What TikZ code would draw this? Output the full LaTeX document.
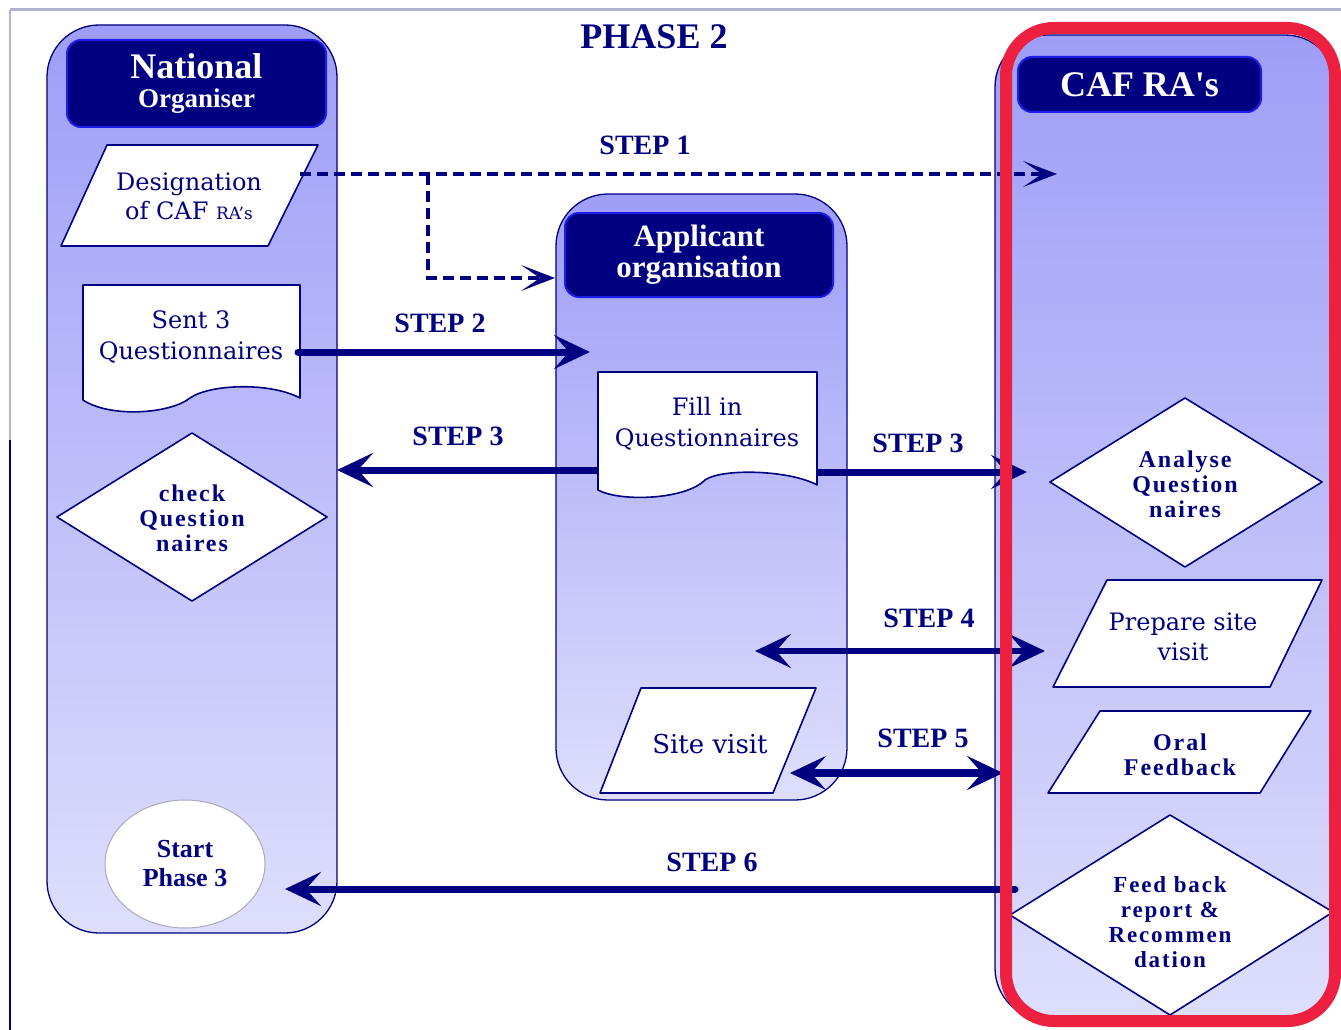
\documentclass[tikz,border=0pt]{standalone}
\usepackage{fontspec}
\setmainfont{DejaVu Serif}
\newfontfamily\tnr{Liberation Serif}
\newfontfamily\tnrsp{Liberation Serif}[LetterSpace=8]
\usetikzlibrary{arrows.meta,shapes.geometric}
\definecolor{navyc}{RGB}{0,0,128}
\definecolor{hdrb}{RGB}{30,30,235}
\definecolor{lanetop}{RGB}{158,158,248}
\definecolor{lanebot}{RGB}{222,222,252}
\definecolor{redf}{RGB}{238,32,64}
\definecolor{frameg}{RGB}{178,178,206}
\definecolor{ellb}{RGB}{170,170,190}
\tikzset{
  lane/.style={draw=navyc, line width=1.3pt, rounded corners=52pt, top color=lanetop, bottom color=lanebot, inner sep=0pt},
  hdr/.style={draw=hdrb, fill=navyc, line width=2pt, rounded corners=14pt, text=white, inner sep=0pt, align=center},
  shp/.style={draw=navyc, fill=white, line width=1.6pt, line join=round},
  txt/.style={text=navyc, align=center, inner sep=0pt},
  steplbl/.style={text=navyc, inner sep=0pt, font=\tnr\bfseries\fontsize{28}{28}\selectfont},
  regtxt/.style={txt, font=\fontsize{24}{31}\selectfont},
  dmtxt/.style={txt, font=\tnrsp\bfseries\fontsize{24}{25}\selectfont},
  bigtip/.tip={Stealth[length=36pt, width=34pt, inset=15pt]},
  bigarr/.style={draw=navyc, line width=7pt, line cap=round, -bigtip},
  dblarr/.style={draw=navyc, line width=6.5pt, bigtip-bigtip},
  dsharr/.style={draw=navyc, line width=3.5pt, dash pattern=on 11pt off 6pt, -{Stealth[length=34pt, width=26pt, inset=19pt]}}
}
\begin{document}
\begin{tikzpicture}[x=1pt,y=-1pt]
\useasboundingbox (0,0) rectangle (1341,1030);
\fill[white] (0,0) rectangle (1341,1030);
% frame
\draw[frameg, line width=3pt] (10,10) -- (1341,10);
\draw[frameg, line width=2pt] (10,10) -- (10,440);
\draw[navyc, line width=1.5pt] (10,440) -- (10,1030);
% lanes
\node[lane, minimum width=290pt, minimum height=908pt] (natlane) at (192,479) {};
\node[lane, minimum width=291pt, minimum height=606pt] (applane) at (701.5,497) {};
\node[lane, minimum width=342pt, minimum height=985pt] (caflane) at (1166,527.5) {};
% headers
\node[hdr, minimum width=259pt, minimum height=87pt, font=\tnr\bfseries\fontsize{30}{29}\selectfont] (nathdr) at (196.5,83.5)
  {{\fontsize{36}{29}\selectfont National}\\{\fontsize{27}{29}\selectfont Organiser}};
\node[hdr, minimum width=268pt, minimum height=84pt, font=\tnr\bfseries\fontsize{31}{31}\selectfont] (apphdr) at (699,255)
  {Applicant\\organisation};
\node[hdr, minimum width=243pt, minimum height=55pt, font=\tnr\bfseries\fontsize{36}{36}\selectfont] (cafhdr) at (1139.5,84.5)
  {CAF RA's};
\node[txt, font=\tnr\bfseries\fontsize{36}{36}\selectfont] (phase) at (654,37) {PHASE 2};
% national organiser shapes
\draw[shp] (107,145) -- (318,145) -- (268,246) -- (61,246) -- cycle;
\node[txt, font=\fontsize{24}{29}\selectfont] (desig) at (189,196) {Designation\\of CAF {\fontsize{17}{29}\selectfont RA's}};
\draw[shp] (83,400) -- (83,285) -- (300,285) -- (300,398) .. controls (270,382) and (210,384) .. (190,398) .. controls (170,414) and (110,418) .. (83,400) -- cycle;
\node[regtxt] (sent) at (191,337) {Sent 3\\Questionnaires};
\draw[shp] (192,433) -- (327,517) -- (192,601) -- (57,517) -- cycle;
\node[dmtxt] (check) at (192,518) {check\\Question\\naires};
\node[ellipse, draw=ellb, fill=white, line width=1pt, minimum width=160pt, minimum height=128pt, txt, font=\tnr\bfseries\fontsize{26}{29}\selectfont] (start) at (185,864) {Start\\Phase 3};
% applicant shapes
\draw[shp] (598,490) -- (598,372) -- (817,372) -- (817,485) .. controls (790,470) and (722,468) .. (705,480) .. controls (685,500) and (620,502) .. (598,490) -- cycle;
\node[regtxt] (fill) at (707,424) {Fill in\\Questionnaires};
\draw[shp] (641,688) -- (816,688) -- (773,793) -- (600,793) -- cycle;
\node[txt, font=\fontsize{26}{30}\selectfont] (site) at (710,744) {Site visit};
% CAF shapes
\draw[shp] (1185,398) -- (1322,482) -- (1185,567) -- (1050,482) -- cycle;
\node[dmtxt] (analyse) at (1185,484) {Analyse\\Question\\naires};
\draw[shp] (1107,580) -- (1322,580) -- (1270,687) -- (1053,687) -- cycle;
\node[txt, font=\fontsize{24}{30}\selectfont] (prep) at (1183,637) {Prepare site\\visit};
\draw[shp] (1100,711) -- (1311,711) -- (1260,793) -- (1048,793) -- cycle;
\node[dmtxt] (oral) at (1180,755) {Oral\\Feedback};
\draw[shp] (1170,815) -- (1333,912) -- (1170,1015) -- (1010,915) -- cycle;
\node[txt, font=\tnrsp\bfseries\fontsize{23}{25}\selectfont] (feed) at (1170,922) {Feed back\\report \&\\Recommen\\dation};
% connectors
\coordinate (s1a) at (300,174); \coordinate (s1b) at (1057,174);
\coordinate (s1j) at (428,174); \coordinate (s1c) at (555,278);
\draw[dsharr] (s1a) -- (s1b);
\draw[dsharr] (s1j) |- (s1c);
\coordinate (s2a) at (298,352); \coordinate (s2b) at (590,352);
\draw[bigarr] (s2a) -- (s2b);
\coordinate (s3a) at (597,470); \coordinate (s3b) at (337,470);
\draw[bigarr, line cap=butt] (s3a) -- (s3b);
\coordinate (s3c) at (817,472); \coordinate (s3d) at (1027,472);
\draw[bigarr, line cap=butt] (s3c) -- (s3d);
\coordinate (s4a) at (755,651); \coordinate (s4b) at (1045,651);
\draw[dblarr] (s4a) -- (s4b);
\coordinate (s5a) at (790,773); \coordinate (s5b) at (1003,773);
\draw[dblarr, line width=8pt] (s5a) -- (s5b);
\coordinate (s6a) at (1015,889); \coordinate (s6b) at (285,889);
\draw[bigarr] (s6a) -- (s6b);
% labels
\node[steplbl] (l1) at (645,145) {STEP 1};
\node[steplbl] (l2) at (440,323) {STEP 2};
\node[steplbl] (l3a) at (458,436) {STEP 3};
\node[steplbl] (l3b) at (918,443) {STEP 3};
\node[steplbl] (l4) at (929,618) {STEP 4};
\node[steplbl] (l5) at (923,738) {STEP 5};
\node[steplbl] (l6) at (712,862) {STEP 6};
% highlight frame
\draw[redf, line width=12pt, rounded corners=48pt] (1006,28) rectangle (1335,1021);
\end{tikzpicture}
\end{document}
